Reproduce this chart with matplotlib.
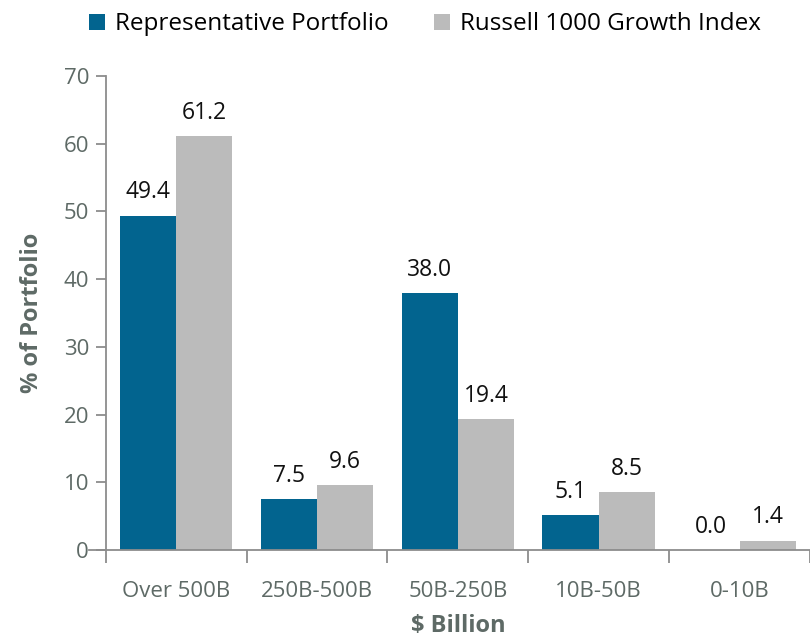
import numpy as np
import matplotlib
matplotlib.use("Agg")
import matplotlib.pyplot as plt

plt.rcParams['font.family'] = ['Open Sans', 'DejaVu Sans']

# Data
#._____________________
categories = ['Over 500B', '250B-500B', '50B-250B', '10B-50B', '0-10B']
portfolio = [49.4, 7.5, 38.0, 5.1, 0.0]
russell = [61.2, 9.6, 19.4, 8.5, 1.4]
series_names = ['Representative Portfolio', 'Russell 1000 Growth Index']
yticks = [0, 10, 20, 30, 40, 50, 60, 70]

blue = '#02648f'
grey = '#bbbbbb'
axis_col = '#8c8c8c'
text_col = '#5e6a66'

# Plot
#._____________________
fig = plt.figure(figsize=(8.1, 6.4), dpi=100)
ax = fig.add_axes([0.1305, 0.1406, 0.8695, 0.7406])

x = np.arange(len(categories))
w = 0.4
b1 = ax.bar(x - w/2, portfolio, w, color=blue, label=series_names[0])
b2 = ax.bar(x + w/2, russell, w, color=grey, label=series_names[1])

for bars in (b1, b2):
    for b in bars:
        ax.annotate(F"{b.get_height():.1f}", (b.get_x() + b.get_width()/2, b.get_height()),
                    xytext=(0, 8), textcoords='offset points', ha='center', va='bottom',
                    fontsize=16.5, color='#111111')

ax.set_xlim(-0.5, 4.5)
ax.set_ylim(0, 70)
ax.set_yticks(yticks)
ax.tick_params(axis='y', length=7, width=1.3, color=axis_col, labelcolor=text_col, labelsize=16, pad=5)
ax.set_xticks(np.arange(len(categories) + 1) - 0.5, minor=False)
ax.set_xticklabels([])
ax.set_xticks(x, minor=True)
ax.set_xticklabels(categories, minor=True)
ax.tick_params(axis='x', which='major', length=9, width=1.3, color=axis_col)
ax.tick_params(axis='x', which='minor', length=0, labelcolor=text_col, labelsize=16, pad=22)

for s in ['top', 'right']:
    ax.spines[s].set_visible(False)
for s in ['left', 'bottom']:
    ax.spines[s].set_color(axis_col)
    ax.spines[s].set_linewidth(1.3)
ax.spines['bottom'].set_bounds(-0.62, 4.5)
ax.spines['bottom'].set_clip_on(False)

ax.set_ylabel('% of Portfolio', fontsize=17, fontweight='bold', color=text_col, labelpad=14)
ax.set_xlabel('$ Billion', fontsize=17, fontweight='bold', color=text_col, labelpad=9)

fig.legend(handles=[b1, b2], loc='upper left', bbox_to_anchor=(0.083, 1.015), ncol=2, frameon=False,
           fontsize=17.5, handlelength=0.65, handleheight=0.65, handletextpad=0.4, columnspacing=1.9)

fig.savefig('out.png', dpi=100)
